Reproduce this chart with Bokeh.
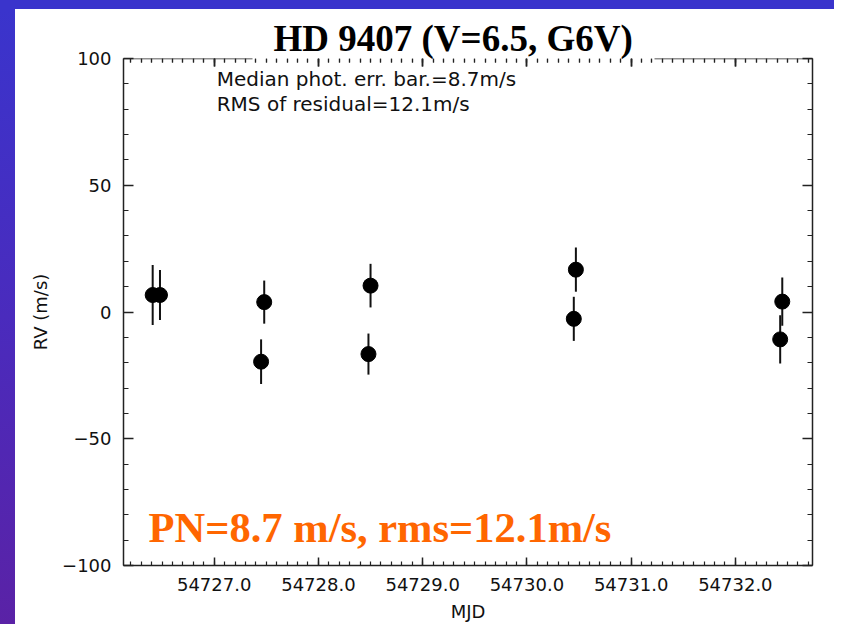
from bokeh.plotting import figure
from bokeh.models import (Range1d, FixedTicker, LinearAxis, Label, PrintfTickFormatter,
                          ColumnDataSource, CustomJSTickFormatter, Div)
from bokeh.layouts import row, column
from bokeh.embed import file_html
from bokeh.resources import INLINE
import numpy as np

# Data
mjd = [54726.41, 54726.48, 54727.48, 54727.45, 54728.50, 54728.48,
       54730.47, 54730.45, 54732.45, 54732.43]
rv = [6.7, 6.7, 3.9, -19.6, 10.4, -16.6, 16.7, -2.7, 4.1, -10.8]
err = [11.8, 9.9, 8.5, 8.8, 8.6, 8.1, 8.7, 8.7, 9.5, 9.5]

x_major = [54727.0, 54728.0, 54729.0, 54730.0, 54731.0, 54732.0]
y_major = [-100, -50, 0, 50, 100]
y_labels = {-100: "\u2212100", -50: "\u221250", 0: "0", 50: "50", 100: "100"}

title_text = "HD 9407 (V=6.5, G6V)"
note1 = "Median phot. err. bar.=8.7m/s"
note2 = "RMS of residual=12.1m/s"
summary = "PN=8.7 m/s, rms=12.1m/s"

src = ColumnDataSource(dict(
    x=mjd, y=rv,
    lo=[v - e for v, e in zip(rv, err)],
    hi=[v + e for v, e in zip(rv, err)],
))

TOP = 9  # height of the slide's top border strip

p = figure(width=819, height=624 - TOP, output_backend="svg", toolbar_location=None,
           x_range=Range1d(54726.13, 54732.74), y_range=Range1d(-100, 100),
           x_axis_location=None, y_axis_location=None,
           min_border_left=108, min_border_right=22, min_border_top=58 - TOP, min_border_bottom=57)
p.background_fill_color = "white"
p.border_fill_color = "white"
p.outline_line_color = None
p.grid.visible = False
p.margin = 0

x_minor = list(np.round(np.arange(54726.2, 54732.75, 0.1), 1))
y_minor = list(range(-100, 101, 10))

FONT = "DejaVu Sans"
AX = "#222222"
blank = CustomJSTickFormatter(code="return '';")


def style_axis(ax, major_in, minor_in):
    ax.axis_line_color = AX
    ax.axis_line_width = 1.5
    ax.major_tick_line_color = AX
    ax.minor_tick_line_color = AX
    ax.major_tick_line_width = 1.5
    ax.minor_tick_line_width = 1.2
    ax.major_tick_in = major_in
    ax.major_tick_out = 0
    ax.minor_tick_in = minor_in
    ax.minor_tick_out = 0
    ax.major_label_text_font = FONT
    ax.major_label_text_color = "#111111"
    ax.major_label_text_font_size = "18px"
    ax.axis_label_text_font = FONT
    ax.axis_label_text_font_style = "normal"
    ax.axis_label_text_color = "#111111"
    ax.axis_label_text_font_size = "18px"


xb = LinearAxis(ticker=FixedTicker(ticks=x_major, minor_ticks=x_minor),
                formatter=PrintfTickFormatter(format="%.1f"), axis_label="MJD")
style_axis(xb, 8, 4)
xb.major_label_standoff = 12
xb.axis_label_standoff = 7
p.add_layout(xb, "below")

# top axis, interrupted by the title box (two pieces fixed at the top edge)
for lo_b, hi_b in [(54726.13, 54727.37), (54731.22, 54732.74)]:
    xt = LinearAxis(ticker=FixedTicker(ticks=x_major, minor_ticks=x_minor), formatter=blank,
                    fixed_location=100, bounds=(lo_b, hi_b))
    style_axis(xt, 8, 4)
    xt.major_label_standoff = 0
    p.add_layout(xt, "above")

yl = LinearAxis(ticker=FixedTicker(ticks=y_major, minor_ticks=y_minor), axis_label="RV (m/s)")
yl.major_label_overrides = y_labels
style_axis(yl, 10, 5)
yl.major_label_standoff = 12
yl.axis_label_standoff = 8
p.add_layout(yl, "left")

yr = LinearAxis(ticker=FixedTicker(ticks=y_major, minor_ticks=y_minor), formatter=blank)
style_axis(yr, 10, 5)
p.add_layout(yr, "right")

p.segment(x0="x", y0="lo", x1="x", y1="hi", source=src, line_color="#111111", line_width=2)
p.scatter(x="x", y="y", source=src, size=15, fill_color="black", line_color="black")

p.title.text = title_text
p.title.align = "left"
p.title.offset = 150
p.title.standoff = 0
p.title.text_font = "Liberation Serif"
p.title.text_font_style = "bold"
p.title.text_font_size = "37px"
p.title.text_color = "black"

n1 = Label(x=54727.024, y=92.1, text=note1, text_align="left", text_baseline="middle",
           text_font=FONT, text_font_size="20px", text_color="#111111")
n2 = Label(x=54727.024, y=81.9, text=note2, text_align="left", text_baseline="middle",
           text_font=FONT, text_font_size="20px", text_color="#111111")
p.add_layout(n1)
p.add_layout(n2)

s = Label(x=54726.371, y=-85.1, text=summary, text_align="left", text_baseline="alphabetic",
          text_font="Liberation Serif", text_font_style="bold", text_font_size="42.5px",
          text_color="#ff6600")
p.add_layout(s)

# purple slide border: top strip and left strip
top_strip = Div(text="", width=834, height=TOP, margin=0,
                styles={"background": "#3a34cc"})
left_strip = Div(text="", width=15, height=624 - TOP, margin=0,
                 styles={"background": "linear-gradient(180deg, #3a34cc 0%, #4a2bbd 50%, #5a22a6 100%)"})

layout = column(top_strip, row(left_strip, p, spacing=0), spacing=0)
open("out.html", "w").write(file_html(layout, INLINE))
